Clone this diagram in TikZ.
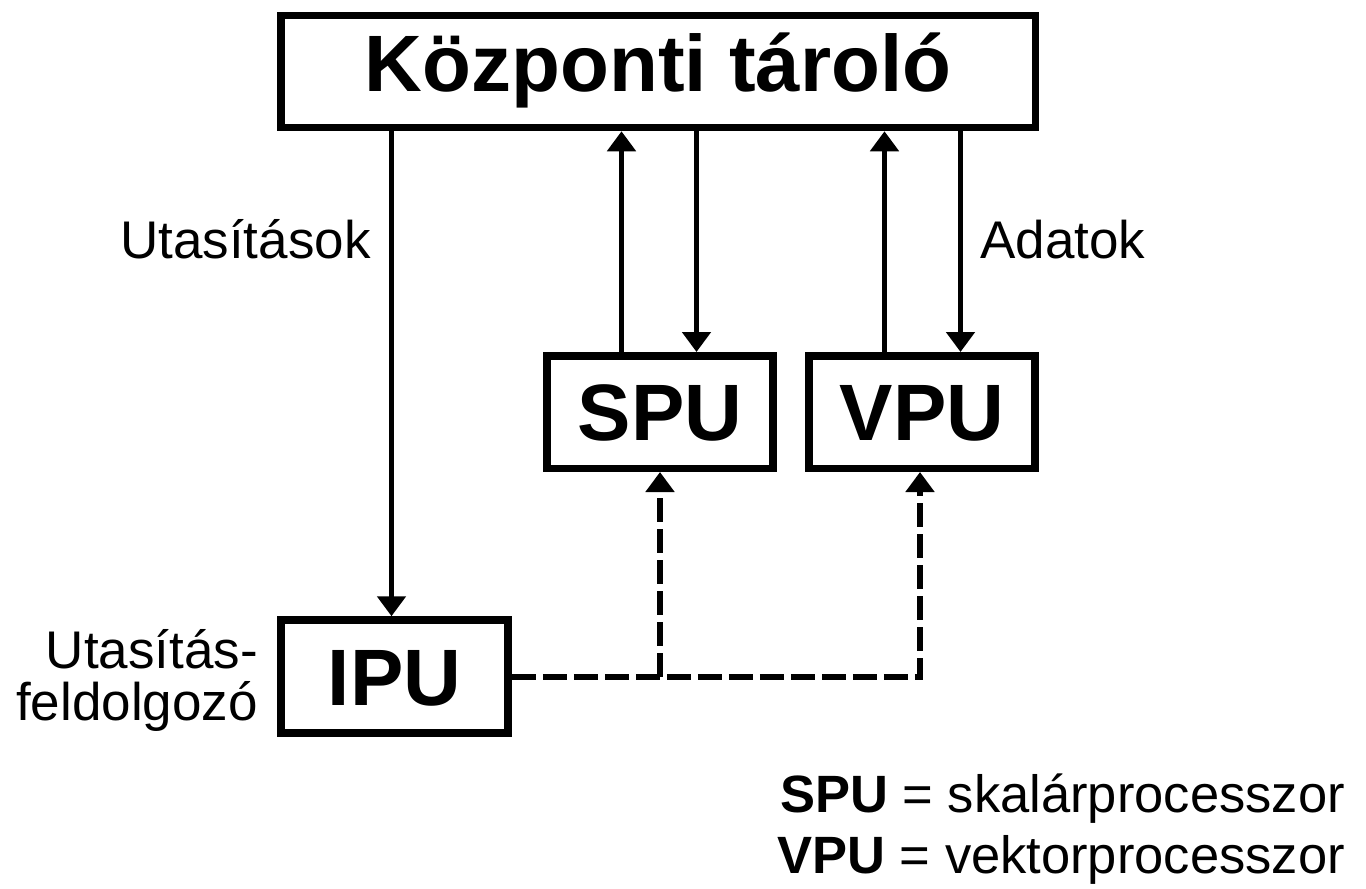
\documentclass[tikz,border=0pt]{standalone}
\usepackage{fontspec}
\setmainfont{Liberation Sans}
\usetikzlibrary{arrows.meta}
\begin{document}
\begin{tikzpicture}[x=1pt,y=-1pt,
  box/.style={draw,line width=7.5pt,inner sep=0pt,font=\bfseries\fontsize{80}{90}\selectfont},
  smallbox/.style={box,minimum width=226pt,minimum height=112.5pt,text height=57pt,text depth=0pt},
  arr/.style={line width=5pt,-{Triangle[length=20pt,width=28pt]}},
  dsh/.style={line width=6pt,dash pattern=on 24pt off 7pt},
  lbl/.style={inner sep=0pt,font=\fontsize{53}{62}\selectfont},
  leg/.style={inner sep=0pt,font=\fontsize{52.5}{62}\selectfont}]
\useasboundingbox (0,0) rectangle (1366,889);
\node[box,minimum width=754.5pt,minimum height=112pt,text height=58pt,text depth=19pt] (top) at (658,71.5) {Központi tároló};
\node[smallbox] (spu) at (660,412) {SPU};
\node[smallbox] (vpu) at (922,412) {VPU};
\node[smallbox,minimum width=227pt,minimum height=113pt] (ipu) at (394.5,676.5) {IPU};
% connector x positions
\coordinate (ux) at (391.5,0);
\coordinate (s1) at (621.5,0);
\coordinate (s2) at (696.5,0);
\coordinate (v1) at (884.5,0);
\coordinate (v2) at (960.5,0);
\coordinate (sb) at (660,0);
\coordinate (vb) at (920,0);
\draw[arr] (top.south -| ux) -- (ipu.north -| ux);
\draw[arr] (spu.north -| s1) -- (top.south -| s1);
\draw[arr] (top.south -| s2) -- (spu.north -| s2);
\draw[arr] (vpu.north -| v1) -- (top.south -| v1);
\draw[arr] (top.south -| v2) -- (vpu.north -| v2);
\draw[dsh,-{Triangle[length=20pt,width=28pt]}] (ipu.east) -- (ipu.east -| vb) -- (vpu.south -| vb);
\draw[dsh,-{Triangle[length=20pt,width=28pt]}] (ipu.east -| sb) -- (spu.south -| sb);
% labels
\node[lbl,anchor=base west] (lu) at (120,258) {Utasítások};
\node[lbl,anchor=base west] (la) at (980,258) {Adatok};
\node[lbl,anchor=base east] (lf1) at (258,668) {Utasítás-};
\node[lbl,anchor=base east] (lf2) at (258,720) {feldolgozó};
\node[leg,anchor=base east] (leg1) at (1345,812) {\textbf{SPU} = skalárprocesszor};
\node[leg,anchor=base east] (leg2) at (1345,873) {\textbf{VPU} = vektorprocesszor};
\end{tikzpicture}
\end{document}
